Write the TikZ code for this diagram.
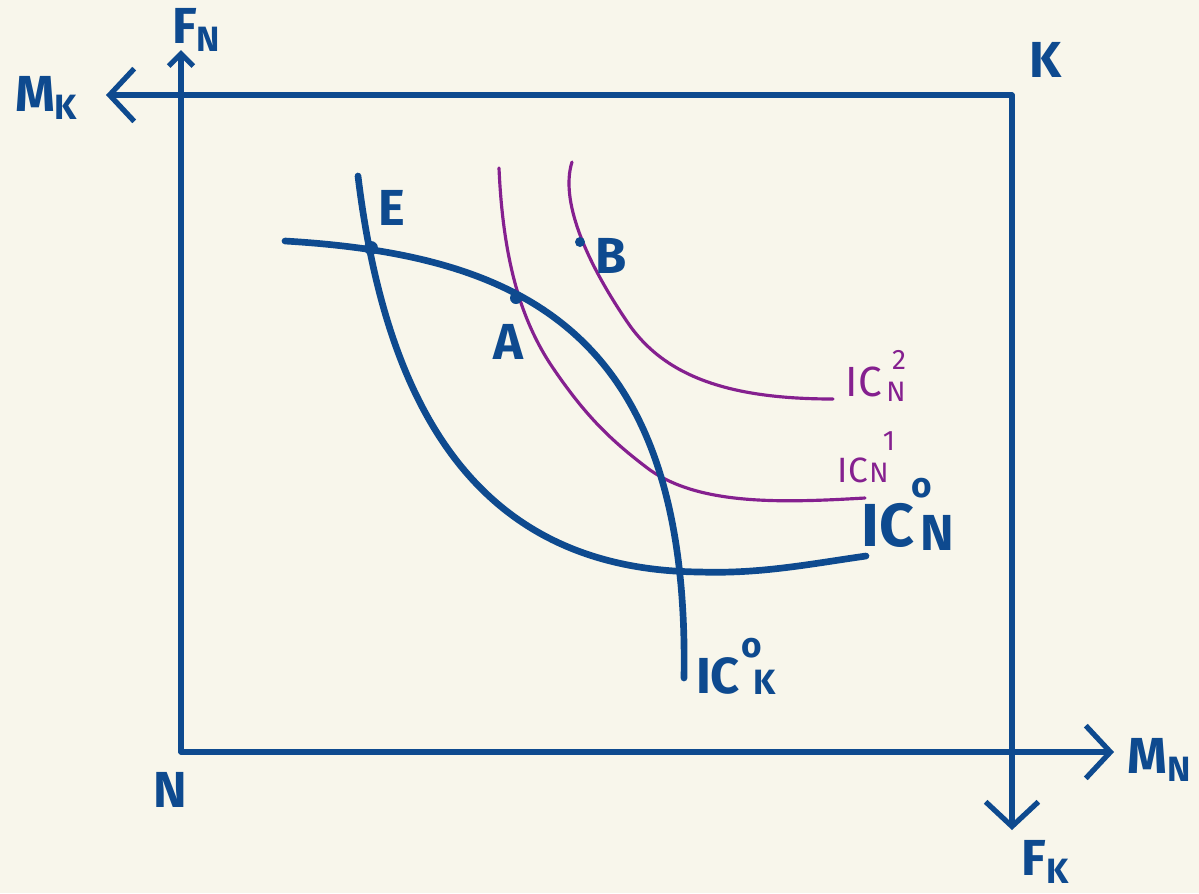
\documentclass[tikz,border=0pt]{standalone}
\usepackage{fontspec}
\setmainfont{Fira Sans}
\usepackage{xcolor}
\usetikzlibrary{arrows.meta}
\definecolor{paper}{HTML}{F8F6EB}
\definecolor{inkblue}{HTML}{0E4A8F}
\definecolor{inkpurple}{HTML}{85208F}

\begin{document}
\begin{tikzpicture}[x=0.01cm, y=-0.01cm,
    boxline/.style={line width=1.5pt, inkblue, line cap=round},
    axisarrow/.style={boxline, -{Straight Barb[length=7pt, width=15pt, line width=1.5pt]}},
    smallarrow/.style={boxline, -{Straight Barb[length=3.5pt, width=7pt, line width=1.5pt]}},
    icthick/.style={line width=1.9pt, inkblue, line cap=round},
    icthin/.style={line width=0.9pt, inkpurple, line cap=round},
    lbl/.style={inkblue, font=\Large\bfseries, inner sep=1pt},
    lblsmall/.style={inkblue, font=\normalsize\bfseries, inner sep=1pt},
    iclbl/.style={inkpurple, font=\large, inner sep=1pt},
    iclblsmall/.style={inkpurple, font=\footnotesize, inner sep=1pt}]
	\fill [paper] (0,0) rectangle (1199,893);
	\useasboundingbox (0,0) rectangle (1199,893);

	% box corners and axis ends
	\coordinate (N) at (181,752);
	\coordinate (K) at (1012,95);
	\coordinate (FNend) at (181,50);
	\coordinate (MKend) at (106,95);
	\coordinate (MNend) at (1114,752);
	\coordinate (FKend) at (1012,830);

	\draw [smallarrow] (N) to (FNend);
	\draw [axisarrow] (N) to (MNend);
	\draw [axisarrow] (K) to (MKend);
	\draw [axisarrow] (K) to (FKend);

	% indifference curves
	\draw [icthin] (572,162) .. controls (560,200) and (585,260) .. (628,323)
	               .. controls (665,377) and (730,399) .. (833,399);
	\draw [icthin] (499,168) .. controls (503,260) and (521,321) .. (553,368)
	               .. controls (585,415) and (610,440) .. (650,470)
	               .. controls (700,505) and (780,503) .. (865,498);
	\draw [icthick] (358,176) .. controls (390,440) and (500,570) .. (700,572)
	                .. controls (760,574) and (810,564) .. (866,556);
	\draw [icthick] (285,241) .. controls (520,255) and (690,330) .. (684,678);

	% points
	\coordinate (E) at (371,248);
	\coordinate (A) at (516,298);
	\coordinate (B) at (580,242);
	\fill [inkblue] (E) circle (7);
	\fill [inkblue] (A) circle (6);
	\fill [inkblue] (B) circle (5);

	% labels
	\node [lbl] (labE) at (392,208) {E};
	\node [lbl] (labA) at (508,342) {A};
	\node [lbl] (labB) at (611,256) {B};
	\node [lbl] (labFN) at (197,30) {F\textsubscript{N}};
	\node [lbl] (labMK) at (47,98) {M\textsubscript{K}};
	\node [lbl] (labK) at (1046,60) {K};
	\node [lbl] (labN) at (170,790) {N};
	\node [lbl] (labMN) at (1160,760) {M\textsubscript{N}};
	\node [lbl] (labFK) at (1046,862) {F\textsubscript{K}};

	\node [iclbl] (labIC2) at (864,382) {IC};
	\node [iclblsmall] (supIC2) at (899,360) {2};
	\node [iclblsmall] (subIC2) at (896,392) {N};

	\node [iclbl, font=\normalsize] (labIC1) at (853,470) {IC};
	\node [iclblsmall] (supIC1) at (889,441) {1};
	\node [iclblsmall] (subIC1) at (879,473) {N};

	\node [lbl, font=\LARGE\bfseries] (labICN) at (888,525) {IC};
	\node [lblsmall] (supICN) at (922,488) {o};
	\node [lbl] (subICN) at (937,533) {N};

	\node [lbl] (labICK) at (718,676) {IC};
	\node [lblsmall] (supICK) at (752,648) {o};
	\node [lblsmall] (subICK) at (765,682) {K};
\end{tikzpicture}
\end{document}
